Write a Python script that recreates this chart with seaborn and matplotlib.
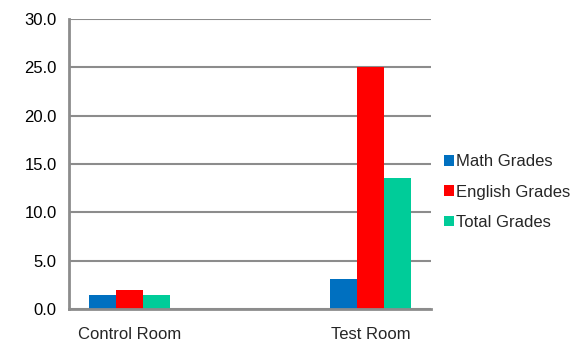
import matplotlib
matplotlib.use("Agg")
import matplotlib.pyplot as plt
import seaborn as sns
import pandas as pd
from matplotlib.patches import Patch

rooms = ["Control Room", "Test Room"]
order = ["Control Room", " ", "Test Room"]
series = ["Math Grades", "English Grades", "Total Grades"]
math_vals = [1.5, 3.1]
english_vals = [2.0, 25.0]
total_vals = [1.5, 13.6]
colors = ["#0070C0", "#FF0000", "#00CC99"]
yticks = [0, 5, 10, 15, 20, 25, 30]

rows = []
for s, vals in zip(series, [math_vals, english_vals, total_vals]):
    for r, v in zip(rooms, vals):
        rows.append({"room": r, "series": s, "value": v})
df = pd.DataFrame(rows)

sns.set_style("white")
plt.rcParams["font.family"] = ["Liberation Sans", "DejaVu Sans"]
fs = 12

fig = plt.figure(figsize=(5.84, 3.45), dpi=100)
ax = fig.add_axes([69/584, 1 - 309/345, (431-69)/584, (309-19)/345])

sns.barplot(data=df, x="room", y="value", hue="series", order=order,
            hue_order=series, palette=colors, width=0.67, gap=0,
            ax=ax, legend=False, saturation=1, edgecolor="none", linewidth=0)

gray = "#8C8C8C"
ax.set_ylim(0, 30)
ax.set_xlim(-0.5, 2.5)
ax.set_yticks(yticks)
ax.set_yticklabels([f"{v:.1f}" for v in yticks], fontsize=fs, color="#000000")
ax.yaxis.grid(True, color=gray, linewidth=1.5)
ax.set_axisbelow(True)
ax.set_xticks([0, 1, 2])
ax.set_xticklabels(["Control Room", "", "Test Room"], fontsize=fs)
ax.set_xticks([-0.5, 0.5, 1.5, 2.5], minor=True)
ax.tick_params(axis="x", which="major", length=0, pad=13)
ax.tick_params(axis="x", which="minor", length=5, width=1.5, color=gray, direction="out")
ax.tick_params(axis="y", length=6, width=1.5, color=gray, direction="out", pad=3)
ax.set_xlabel("")
ax.set_ylabel("")
for side in ["top", "right"]:
    ax.spines[side].set_visible(False)
for side in ["left", "bottom"]:
    ax.spines[side].set_color(gray)
    ax.spines[side].set_linewidth(2)

handles = [Patch(facecolor=c, edgecolor="none") for c in colors]
fig.legend(handles, series, loc="center left", bbox_to_anchor=(444/584, 1 - 192/345),
           frameon=False, fontsize=fs, handlelength=0.6, handleheight=0.6,
           handletextpad=0.15, labelspacing=0.92, borderaxespad=0, borderpad=0)

fig.savefig("out.png", dpi=100)
